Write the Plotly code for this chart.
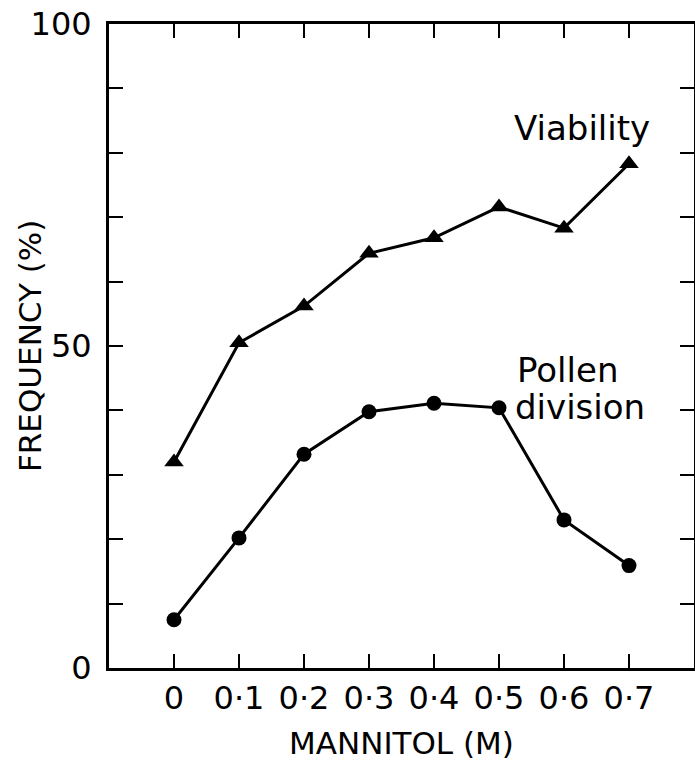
import plotly.graph_objects as go

mannitol = [0, 0.1, 0.2, 0.3, 0.4, 0.5, 0.6, 0.7]
viability = [32.0, 50.5, 56.2, 64.4, 66.8, 71.6, 68.3, 78.3]
pollen_division = [7.5, 20.2, 33.2, 39.8, 41.1, 40.4, 23.0, 15.9]

x_tickvals = [0, 0.1, 0.2, 0.3, 0.4, 0.5, 0.6, 0.7]
x_ticktext = ["0", "0·1", "0·2", "0·3", "0·4", "0·5", "0·6", "0·7"]
y_tickvals = [0, 10, 20, 30, 40, 50, 60, 70, 80, 90, 100]
y_ticktext = ["0", "", "", "", "", "50", "", "", "", "", "100"]

FONT = "DejaVu Sans"

fig = go.Figure()
fig.add_trace(go.Scatter(
    x=mannitol, y=viability, mode="lines+markers",
    line=dict(color="black", width=3),
    marker=dict(symbol="triangle-up", size=17, color="black"),
    showlegend=False,
))
fig.add_trace(go.Scatter(
    x=mannitol, y=pollen_division, mode="lines+markers",
    line=dict(color="black", width=3),
    marker=dict(symbol="circle", size=15, color="black"),
    showlegend=False,
))

fig.add_annotation(x=0.52, y=83.8, xref="x", yref="y", text="Viability",
                   showarrow=False, xanchor="left", yanchor="middle",
                   font=dict(family=FONT, size=34, color="black"))
fig.add_annotation(x=0.525, y=46.2, xref="x", yref="y", text="Pollen",
                   showarrow=False, xanchor="left", yanchor="middle",
                   font=dict(family=FONT, size=34, color="black"))
fig.add_annotation(x=0.522, y=40.5, xref="x", yref="y", text="division",
                   showarrow=False, xanchor="left", yanchor="middle",
                   font=dict(family=FONT, size=34, color="black"))
fig.add_annotation(x=0, xref="paper", xanchor="center", xshift=-79,
                   y=0.5, yref="paper", yanchor="middle",
                   text="FREQUENCY (%)", textangle=-90, showarrow=False,
                   font=dict(family=FONT, size=31, color="black"))

fig.update_layout(
    width=695, height=767,
    margin=dict(l=109, r=1, t=24, b=99, autoexpand=False),
    paper_bgcolor="white", plot_bgcolor="white",
    font=dict(family=FONT, size=30, color="black"),
    xaxis=dict(
        range=[-0.1, 0.8], tickvals=x_tickvals, ticktext=x_ticktext,
        ticks="inside", ticklen=14, tickwidth=2, tickcolor="black",
        showline=True, linewidth=3, linecolor="black", mirror="ticks",
        showgrid=False, zeroline=False,
        tickfont=dict(family=FONT, size=32),
        ticklabelstandoff=0,
        title=dict(text="MANNITOL (M)", font=dict(family=FONT, size=31), standoff=16),
    ),
    yaxis=dict(
        range=[0, 100], tickvals=y_tickvals, ticktext=y_ticktext,
        ticks="inside", ticklen=14, tickwidth=2, tickcolor="black",
        showline=True, linewidth=3, linecolor="black", mirror="ticks",
        showgrid=False, zeroline=False,
        tickfont=dict(family=FONT, size=32),
        ticklabelstandoff=8,
    ),
)

fig.write_html("out.html")
